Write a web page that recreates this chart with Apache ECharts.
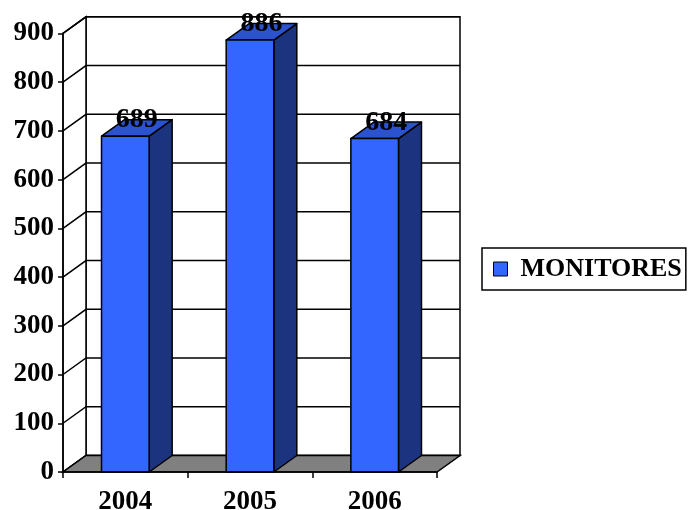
<!DOCTYPE html>
<html>
<head>
<meta charset="utf-8">
<script src="https://cdn.jsdelivr.net/npm/echarts@6/dist/echarts.min.js"></script>
<style>html,body{margin:0;padding:0;background:#fff}#c{width:688px;height:510px}</style>
</head>
<body>
<div id="c"></div>
<script>
const categories = ['2004', '2005', '2006'];
const monitores = [689, 886, 684];
const seriesName = 'MONITORES';
const yMin = 0, yMax = 900, yInterval = 100;

const DX = 23, DY = -16.5;
const FONT = 'Liberation Serif, Times New Roman, serif';
const LW = 1.5;

const chart = echarts.init(document.getElementById('c'), null, {renderer: 'canvas'});

function tickValues() {
  const t = [];
  for (let v = yMin; v <= yMax; v += yInterval) t.push(v);
  return t;
}

function renderFrame(params, api) {
  const bw = api.size([1, 0])[0];
  const x0 = api.coord([0, 0])[0] - bw / 2;
  const x1 = api.coord([categories.length - 1, 0])[0] + bw / 2;
  const yb = api.coord([0, yMin])[1];
  const yt = api.coord([0, yMax])[1];
  const line = {stroke: '#000', lineWidth: LW};
  const children = [];
  children.push({type: 'polygon', shape: {points: [[x0 + DX, yt + DY], [x1 + DX, yt + DY], [x1 + DX, yb + DY], [x0 + DX, yb + DY]]},
    style: {fill: '#fff', stroke: '#000', lineWidth: LW}});
  children.push({type: 'polygon', shape: {points: [[x0, yt], [x0 + DX, yt + DY], [x0 + DX, yb + DY], [x0, yb]]},
    style: {fill: '#fff', stroke: '#000', lineWidth: LW}});
  tickValues().forEach(v => {
    const y = api.coord([0, v])[1];
    children.push({type: 'polyline', shape: {points: [[x0, y], [x0 + DX, y + DY], [x1 + DX, y + DY]]}, style: Object.assign({fill: null}, line)});
  });
  children.push({type: 'polygon', shape: {points: [[x0, yb], [x1, yb], [x1 + DX, yb + DY], [x0 + DX, yb + DY]]},
    style: {fill: '#808080', stroke: '#000', lineWidth: LW}});
  return {type: 'group', children: children};
}

function renderBar(params, api) {
  const ci = api.value(0);
  const v = api.value(1);
  const p = api.coord([ci, v]);
  const p0 = api.coord([ci, 0]);
  const w = api.size([1, 0])[0] * 0.382;
  const xl = p[0] - w / 2, xr = p[0] + w / 2;
  const yt = p[1], yb = p0[1];
  const st = {stroke: '#000', lineWidth: LW, lineJoin: 'round'};
  return {
    type: 'group',
    children: [
      {type: 'polygon', shape: {points: [[xr, yt], [xr + DX, yt + DY], [xr + DX, yb + DY], [xr, yb]]}, style: Object.assign({fill: '#1C3480'}, st)},
      {type: 'polygon', shape: {points: [[xl, yt], [xr, yt], [xr + DX, yt + DY], [xl + DX, yt + DY]]}, style: Object.assign({fill: '#2B52CF'}, st)},
      {type: 'polygon', shape: {points: [[xl, yt], [xr, yt], [xr, yb], [xl, yb]]}, style: Object.assign({fill: '#3366FF'}, st)},
      {type: 'text', z2: 10, style: {text: String(v), x: p[0] + DX / 2, y: yt - 16, align: 'center', verticalAlign: 'middle',
        font: 'bold 28px ' + FONT, fill: '#000'}}
    ]
  };
}

chart.setOption({
  animation: false,
  backgroundColor: '#fff',
  grid: {left: 63, right: 251, top: 33.3, bottom: 38, containLabel: false, outerBoundsMode: 'none'},
  xAxis: {
    type: 'category', data: categories, boundaryGap: true,
    axisLine: {show: true, lineStyle: {color: '#000', width: LW}},
    axisTick: {show: true, length: 6, lineStyle: {color: '#000', width: LW}},
    axisLabel: {color: '#000', fontFamily: FONT, fontWeight: 'bold', fontSize: 27, margin: 17},
    splitLine: {show: false}, z: 10
  },
  yAxis: {
    type: 'value', min: yMin, max: yMax, interval: yInterval,
    axisLine: {show: true, lineStyle: {color: '#000', width: LW}},
    axisTick: {show: true, length: 5, lineStyle: {color: '#000', width: LW}},
    axisLabel: {color: '#000', fontFamily: FONT, fontWeight: 'bold', fontSize: 27, margin: 9},
    splitLine: {show: false}, z: 10
  },
  legend: {
    show: true, orient: 'vertical', left: 482, top: 248,
    padding: [8, 4, 8, 11], borderColor: '#000', borderWidth: 1.5,
    itemWidth: 14, itemHeight: 14, itemGap: 0,
    textStyle: {color: '#000', fontFamily: FONT, fontWeight: 'bold', fontSize: 26, padding: [3, 0, 0, 8]},
    data: [{name: seriesName, icon: 'rect', itemStyle: {color: '#3366FF', borderColor: '#000', borderWidth: 1}}]
  },
  series: [
    {type: 'custom', name: 'frame', renderItem: renderFrame, data: [[0, 0]], z: 1, silent: true, clip: false},
    {type: 'custom', name: seriesName, renderItem: renderBar, z: 5, clip: false,
      itemStyle: {color: '#3366FF'},
      data: monitores.map((v, i) => [i, v])}
  ]
});
</script>
</body>
</html>
